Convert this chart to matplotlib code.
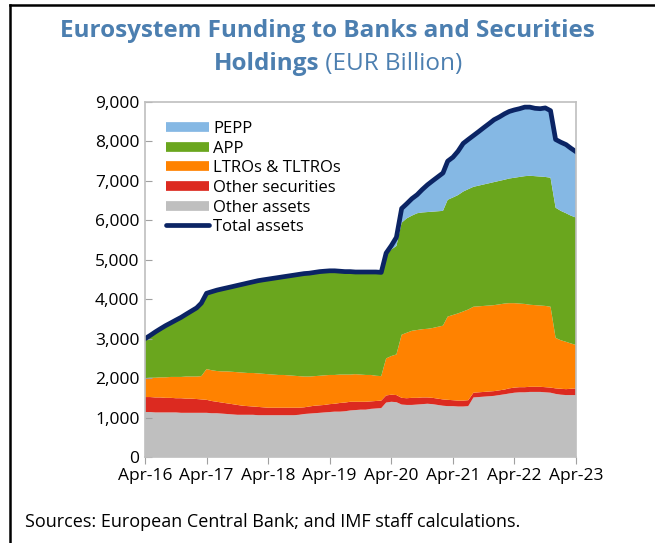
import numpy as np
import pandas as pd
import matplotlib
matplotlib.use('Agg')
import matplotlib.pyplot as plt
from matplotlib.lines import Line2D
from matplotlib.ticker import FuncFormatter

# monthly observations, Apr-16 .. Apr-23
months = pd.date_range('2016-04-01', '2023-04-01', freq='MS')
tick_labels = ['Apr-16', 'Apr-17', 'Apr-18', 'Apr-19', 'Apr-20', 'Apr-21', 'Apr-22', 'Apr-23']

# upper edge of each stacked band, EUR bn
top_other_assets = [1140, 1140, 1130, 1130, 1130, 1130, 1130, 1120, 1120, 1120, 1120, 1120, 1120,
                    1110, 1110, 1100, 1090, 1080, 1070, 1070, 1070, 1070, 1060, 1060, 1060,
                    1060, 1060, 1060, 1060, 1060, 1070, 1090, 1100, 1110, 1120, 1130, 1140,
                    1150, 1150, 1160, 1180, 1190, 1200, 1200, 1220, 1230, 1240,
                    1380, 1400, 1390,
                    1330, 1320, 1320, 1330, 1340, 1350, 1340, 1320, 1300,
                    1290, 1290, 1280, 1280, 1290,
                    1510, 1520, 1530, 1540, 1550, 1570, 1590, 1610, 1630, 1640, 1640, 1650,
                    1650, 1650, 1640, 1630, 1600, 1580, 1570, 1570, 1570]
top_other_sec = [1520, 1520, 1510, 1510, 1500, 1500, 1490, 1490, 1480, 1480, 1470, 1460, 1450,
                 1420, 1400, 1380, 1360, 1340, 1320, 1300, 1290, 1280, 1270, 1260, 1250,
                 1250, 1250, 1250, 1250, 1250, 1250, 1260, 1280, 1300, 1310, 1320, 1340,
                 1350, 1370, 1380, 1400, 1400, 1400, 1400, 1410, 1420, 1430,
                 1560, 1580, 1570,
                 1500, 1490, 1500, 1500, 1510, 1510, 1500, 1480, 1460,
                 1450, 1440, 1430, 1430, 1440,
                 1630, 1640, 1650, 1660, 1670, 1690, 1710, 1740, 1760, 1770, 1770, 1780,
                 1780, 1780, 1770, 1760, 1740, 1730, 1720, 1730, 1740]
top_ltro = [2000, 2010, 2010, 2020, 2020, 2030, 2030, 2030, 2040, 2040, 2040, 2050, 2230,
            2200, 2180, 2170, 2170, 2160, 2150, 2140, 2130, 2130, 2120, 2110, 2100,
            2090, 2080, 2080, 2070, 2060, 2050, 2040, 2040, 2050, 2060, 2070, 2080,
            2080, 2090, 2090, 2090, 2100, 2090, 2080, 2080, 2060, 2050,
            2500, 2560, 2600,
            3100, 3150, 3200, 3220, 3240, 3250, 3270, 3300, 3330,
            3560, 3600, 3640, 3690, 3740,
            3810, 3820, 3830, 3840, 3850, 3870, 3890, 3900, 3900, 3890, 3880, 3860,
            3850, 3840, 3830, 3810, 3020, 2960, 2920, 2880, 2840]
top_app = [3000, 3080, 3170, 3250, 3330, 3400, 3470, 3540, 3620, 3700, 3780, 3900, 4150,
           4190, 4230, 4260, 4290, 4320, 4350, 4380, 4410, 4440, 4470, 4490, 4510,
           4530, 4550, 4570, 4590, 4610, 4630, 4650, 4660, 4680, 4700, 4710, 4720,
           4720, 4710, 4700, 4700, 4690, 4690, 4690, 4690, 4690, 4680,
           5150, 5260, 5350,
           5940, 6050, 6120, 6180, 6200, 6210, 6220, 6230, 6240,
           6520, 6580, 6640, 6730, 6790,
           6850, 6880, 6910, 6940, 6970, 7000, 7030, 7060, 7080, 7100, 7120, 7130,
           7120, 7110, 7100, 7080, 6320, 6240, 6180, 6120, 6070]
total_assets = [3000, 3080, 3170, 3250, 3330, 3400, 3470, 3540, 3620, 3700, 3780, 3900, 4150,
                4190, 4230, 4260, 4290, 4320, 4350, 4380, 4410, 4440, 4470, 4490, 4510,
                4530, 4550, 4570, 4590, 4610, 4630, 4650, 4660, 4680, 4700, 4710, 4720,
                4720, 4710, 4700, 4700, 4690, 4690, 4690, 4690, 4690, 4680,
                5170, 5360, 5570,
                6300, 6420, 6550, 6650, 6780, 6900, 7000, 7100, 7200,
                7500, 7600, 7750, 7950, 8050,
                8150, 8250, 8350, 8450, 8550, 8620, 8700, 8760, 8800, 8830, 8870, 8870,
                8840, 8830, 8850, 8780, 8050, 7980, 7920, 7830, 7740]

other_assets = np.array(top_other_assets)
other_sec = np.array(top_other_sec) - np.array(top_other_assets)
ltro = np.array(top_ltro) - np.array(top_other_sec)
app = np.array(top_app) - np.array(top_ltro)
pepp = np.array(total_assets) - np.array(top_app)

c_pepp = '#85B8E4'
c_app = '#6AA61E'
c_ltro = '#FF8200'
c_sec = '#DC2A20'
c_other = '#BFBFBF'
c_total = '#0B2464'

plt.rcParams['font.family'] = ['Open Sans', 'DejaVu Sans']

fig = plt.figure(figsize=(6.55, 5.43), dpi=100)
ax = fig.add_axes([145 / 655, 1 - 457 / 543, 431 / 655, 355 / 543])

ax.stackplot(months, other_assets, other_sec, ltro, app, pepp,
             colors=[c_other, c_sec, c_ltro, c_app, c_pepp], linewidth=0)
ax.plot(months, total_assets, color=c_total, linewidth=3.4, solid_joinstyle='round')

ax.set_xlim(months[0], months[-1])
ax.set_ylim(0, 9000)
ax.set_yticks(np.arange(0, 9001, 1000))
ax.yaxis.set_major_formatter(FuncFormatter(lambda v, p: '{:,.0f}'.format(v)))
ax.set_xticks([months[i] for i in range(0, 85, 12)])
ax.set_xticklabels(tick_labels)
ax.tick_params(axis='y', direction='in', length=5, color='#A0A0A0', labelsize=12.5, pad=4)
ax.tick_params(axis='x', direction='out', length=5, color='#A0A0A0', labelsize=12.5, pad=3)
for s in ax.spines.values():
    s.set_color('#BFBFBF')
    s.set_linewidth(1.2)

handles = [Line2D([], [], color=c_pepp, lw=7, solid_capstyle='butt'),
           Line2D([], [], color=c_app, lw=7, solid_capstyle='butt'),
           Line2D([], [], color=c_ltro, lw=7, solid_capstyle='butt'),
           Line2D([], [], color=c_sec, lw=7, solid_capstyle='butt'),
           Line2D([], [], color=c_other, lw=7, solid_capstyle='butt'),
           Line2D([], [], color=c_total, lw=3.4, solid_capstyle='round')]
labels = ['PEPP', 'APP', 'LTROs & TLTROs', 'Other securities', 'Other assets', 'Total assets']
ax.legend(handles, labels, loc='upper left', bbox_to_anchor=(0.025, 0.975), frameon=False,
          fontsize=12, handlelength=2.6, handletextpad=0.25, labelspacing=0.22,
          borderaxespad=0.2)

title_color = '#4C7FB0'
fig.text(0.5, 1 - 31 / 543, 'Eurosystem Funding to Banks and Securities', ha='center', va='center',
         fontsize=17.5, fontweight='bold', color=title_color)
fig.text(319 / 655, 1 - 64 / 543, 'Holdings', ha='right', va='center',
         fontsize=17.5, fontweight='bold', color=title_color)
fig.text(319 / 655, 1 - 64 / 543, ' (EUR Billion)', ha='left', va='center',
         fontsize=17.5, color=title_color)

fig.text(25 / 655, 1 - 522 / 543, 'Sources: European Central Bank; and IMF staff calculations.',
         ha='left', va='center', fontsize=13, color='black')

# frame lines at left and top
fig.add_artist(Line2D([10 / 655, 10 / 655], [0, 1 - 5 / 543], color='black', lw=1.8,
                      transform=fig.transFigure))
fig.add_artist(Line2D([10 / 655, 1], [1 - 5 / 543, 1 - 5 / 543], color='black', lw=1.8,
                      transform=fig.transFigure))

fig.savefig('out.png', dpi=100)
